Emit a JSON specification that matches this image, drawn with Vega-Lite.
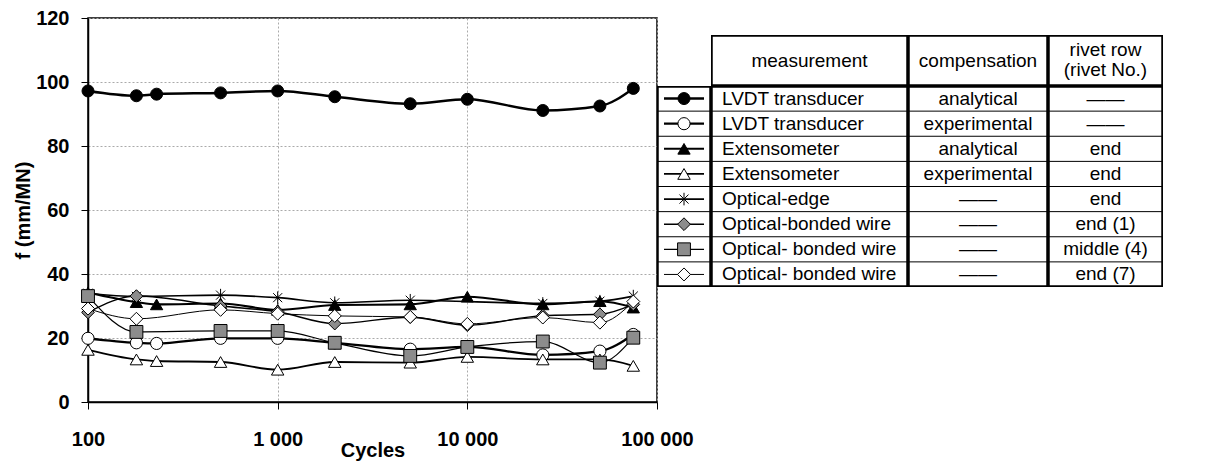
{
  "$schema": "https://vega.github.io/schema/vega-lite/v6.json",
  "padding": {"left": 12, "top": 7, "right": 5, "bottom": 0},
  "background": "white",
  "config": {
    "font": "Liberation Sans",
    "view": {"stroke": null},
    "axis": {
      "labelFont": "Liberation Sans", "labelFontWeight": "bold", "labelFontSize": 20, "labelColor": "black",
      "titleFont": "Liberation Sans", "titleFontWeight": "bold", "titleFontSize": 20, "titleColor": "black",
      "domainColor": "black", "domainWidth": 1.5, "tickColor": "black", "tickSize": 7, "tickWidth": 1,
      "grid": true, "gridColor": "#aaaaaa", "gridDash": [2, 2], "gridWidth": 1
    },
    "text": {"font": "Liberation Sans", "fontSize": 19, "color": "black"}
  },
  "datasets": {
    "points": [
      {"series": "LVDT analytical", "cycles": 100, "f": 97.2},
      {"series": "LVDT analytical", "cycles": 180, "f": 95.7},
      {"series": "LVDT analytical", "cycles": 230, "f": 96.2},
      {"series": "LVDT analytical", "cycles": 500, "f": 96.6},
      {"series": "LVDT analytical", "cycles": 1000, "f": 97.2},
      {"series": "LVDT analytical", "cycles": 2000, "f": 95.4},
      {"series": "LVDT analytical", "cycles": 5000, "f": 93.2},
      {"series": "LVDT analytical", "cycles": 10000, "f": 94.6},
      {"series": "LVDT analytical", "cycles": 25000, "f": 91.1},
      {"series": "LVDT analytical", "cycles": 50000, "f": 92.5},
      {"series": "LVDT analytical", "cycles": 75000, "f": 98.0},
      {"series": "LVDT experimental", "cycles": 100, "f": 19.9},
      {"series": "LVDT experimental", "cycles": 180, "f": 18.5},
      {"series": "LVDT experimental", "cycles": 230, "f": 18.3},
      {"series": "LVDT experimental", "cycles": 500, "f": 19.9},
      {"series": "LVDT experimental", "cycles": 1000, "f": 19.9},
      {"series": "LVDT experimental", "cycles": 2000, "f": 18.5},
      {"series": "LVDT experimental", "cycles": 5000, "f": 16.5},
      {"series": "LVDT experimental", "cycles": 10000, "f": 17.2},
      {"series": "LVDT experimental", "cycles": 25000, "f": 14.7},
      {"series": "LVDT experimental", "cycles": 50000, "f": 15.9},
      {"series": "LVDT experimental", "cycles": 75000, "f": 21.1},
      {"series": "Extensometer analytical", "cycles": 100, "f": 34.2},
      {"series": "Extensometer analytical", "cycles": 180, "f": 31.2},
      {"series": "Extensometer analytical", "cycles": 230, "f": 30.5},
      {"series": "Extensometer analytical", "cycles": 500, "f": 30.8},
      {"series": "Extensometer analytical", "cycles": 1000, "f": 28.8},
      {"series": "Extensometer analytical", "cycles": 2000, "f": 30.3},
      {"series": "Extensometer analytical", "cycles": 5000, "f": 30.5},
      {"series": "Extensometer analytical", "cycles": 10000, "f": 32.9},
      {"series": "Extensometer analytical", "cycles": 25000, "f": 30.5},
      {"series": "Extensometer analytical", "cycles": 50000, "f": 31.5},
      {"series": "Extensometer analytical", "cycles": 75000, "f": 29.5},
      {"series": "Extensometer experimental", "cycles": 100, "f": 16.3},
      {"series": "Extensometer experimental", "cycles": 180, "f": 13.3},
      {"series": "Extensometer experimental", "cycles": 230, "f": 12.8},
      {"series": "Extensometer experimental", "cycles": 500, "f": 12.5},
      {"series": "Extensometer experimental", "cycles": 1000, "f": 10.1},
      {"series": "Extensometer experimental", "cycles": 2000, "f": 12.5},
      {"series": "Extensometer experimental", "cycles": 5000, "f": 12.3},
      {"series": "Extensometer experimental", "cycles": 10000, "f": 14.1},
      {"series": "Extensometer experimental", "cycles": 25000, "f": 13.3},
      {"series": "Extensometer experimental", "cycles": 50000, "f": 13.3},
      {"series": "Extensometer experimental", "cycles": 75000, "f": 11.3},
      {"series": "Optical-edge", "cycles": 100, "f": 34.0},
      {"series": "Optical-edge", "cycles": 180, "f": 33.0},
      {"series": "Optical-edge", "cycles": 500, "f": 33.4},
      {"series": "Optical-edge", "cycles": 1000, "f": 32.6},
      {"series": "Optical-edge", "cycles": 2000, "f": 31.0},
      {"series": "Optical-edge", "cycles": 5000, "f": 31.8},
      {"series": "Optical-edge", "cycles": 25000, "f": 30.8},
      {"series": "Optical-edge", "cycles": 50000, "f": 31.5},
      {"series": "Optical-edge", "cycles": 75000, "f": 33.1},
      {"series": "Bonded end (1)", "cycles": 100, "f": 28.0},
      {"series": "Bonded end (1)", "cycles": 180, "f": 33.1},
      {"series": "Bonded end (1)", "cycles": 500, "f": 30.0},
      {"series": "Bonded end (1)", "cycles": 1000, "f": 28.2},
      {"series": "Bonded end (1)", "cycles": 2000, "f": 24.5},
      {"series": "Bonded end (1)", "cycles": 5000, "f": 26.5},
      {"series": "Bonded end (1)", "cycles": 10000, "f": 24.0},
      {"series": "Bonded end (1)", "cycles": 25000, "f": 27.0},
      {"series": "Bonded end (1)", "cycles": 50000, "f": 27.4},
      {"series": "Bonded end (1)", "cycles": 75000, "f": 30.5},
      {"series": "Bonded middle (4)", "cycles": 100, "f": 33.1},
      {"series": "Bonded middle (4)", "cycles": 180, "f": 21.9},
      {"series": "Bonded middle (4)", "cycles": 500, "f": 22.2},
      {"series": "Bonded middle (4)", "cycles": 1000, "f": 22.2},
      {"series": "Bonded middle (4)", "cycles": 2000, "f": 18.5},
      {"series": "Bonded middle (4)", "cycles": 5000, "f": 14.4},
      {"series": "Bonded middle (4)", "cycles": 10000, "f": 17.2},
      {"series": "Bonded middle (4)", "cycles": 25000, "f": 18.9},
      {"series": "Bonded middle (4)", "cycles": 50000, "f": 12.3},
      {"series": "Bonded middle (4)", "cycles": 75000, "f": 20.1},
      {"series": "Bonded end (7)", "cycles": 100, "f": 29.2},
      {"series": "Bonded end (7)", "cycles": 180, "f": 26.0},
      {"series": "Bonded end (7)", "cycles": 500, "f": 28.8},
      {"series": "Bonded end (7)", "cycles": 1000, "f": 27.6},
      {"series": "Bonded end (7)", "cycles": 2000, "f": 26.9},
      {"series": "Bonded end (7)", "cycles": 5000, "f": 26.6},
      {"series": "Bonded end (7)", "cycles": 10000, "f": 24.4},
      {"series": "Bonded end (7)", "cycles": 25000, "f": 26.4},
      {"series": "Bonded end (7)", "cycles": 50000, "f": 24.8},
      {"series": "Bonded end (7)", "cycles": 75000, "f": 31.4}
    ],
    "legendRows": [
      {"series": "LVDT analytical", "measurement": "LVDT transducer", "compensation": "analytical", "rivet": "——"},
      {"series": "LVDT experimental", "measurement": "LVDT transducer", "compensation": "experimental", "rivet": "——"},
      {"series": "Extensometer analytical", "measurement": "Extensometer", "compensation": "analytical", "rivet": "end"},
      {"series": "Extensometer experimental", "measurement": "Extensometer", "compensation": "experimental", "rivet": "end"},
      {"series": "Optical-edge", "measurement": "Optical-edge", "compensation": "——", "rivet": "end"},
      {"series": "Bonded end (1)", "measurement": "Optical-bonded wire", "compensation": "——", "rivet": "end (1)"},
      {"series": "Bonded middle (4)", "measurement": "Optical- bonded wire", "compensation": "——", "rivet": "middle (4)"},
      {"series": "Bonded end (7)", "measurement": "Optical- bonded wire", "compensation": "——", "rivet": "end (7)"}
    ],
    "headers": [
      {"column": "measurement", "label": "measurement"},
      {"column": "compensation", "label": "compensation"},
      {"column": "rivet", "label": "rivet row\n(rivet No.)"}
    ]
  },
  "bounds": "flush",
  "spacing": 0,
  "hconcat": [
    {
      "width": 569,
      "height": 384,
      "view": {"stroke": "black", "strokeWidth": 1.5},
      "data": {"name": "points"},
      "encoding": {
        "x": {
          "field": "cycles", "type": "quantitative",
          "scale": {"type": "log", "domain": [100, 100000], "nice": false},
          "axis": {"values": [100, 1000, 10000, 100000], "labelExpr": "replace(format(datum.value, ','), ',', ' ')",
                   "title": "Cycles", "labelPadding": 20, "titlePadding": -9, "labelFlush": false}
        },
        "y": {
          "field": "f", "type": "quantitative",
          "scale": {"domain": [0, 120], "nice": false},
          "axis": {"values": [0, 20, 40, 60, 80, 100, 120], "title": "f (mm/MN)", "labelPadding": 12, "titlePadding": 2}
        }
      },
      "layer": [
        {
          "mark": {"type": "line", "interpolate": "monotone", "color": "black"},
          "encoding": {
            "detail": {"field": "series", "type": "nominal"},
            "strokeWidth": {
              "field": "series", "type": "nominal",
              "scale": {"domain": ["LVDT analytical", "LVDT experimental", "Extensometer analytical", "Extensometer experimental", "Optical-edge", "Bonded end (1)", "Bonded middle (4)", "Bonded end (7)"],
                        "range": [2.5, 1, 1, 1, 1, 1, 1, 1]},
              "legend": null
            }
          }
        },
        {
          "mark": {"type": "point", "filled": true, "stroke": "black", "strokeWidth": 1, "opacity": 1, "fillOpacity": 1, "strokeOpacity": 1},
          "encoding": {
            "shape": {
              "field": "series", "type": "nominal",
              "scale": {"domain": ["LVDT analytical", "LVDT experimental", "Extensometer analytical", "Extensometer experimental", "Optical-edge", "Bonded end (1)", "Bonded middle (4)", "Bonded end (7)"],
                        "range": ["circle", "circle", "triangle-up", "triangle-up", "M0,-1V1M-0.72,-0.72L0.72,0.72M-0.72,0.72L0.72,-0.72", "diamond", "square", "diamond"]},
              "legend": null
            },
            "fill": {
              "field": "series", "type": "nominal",
              "scale": {"domain": ["LVDT analytical", "LVDT experimental", "Extensometer analytical", "Extensometer experimental", "Optical-edge", "Bonded end (1)", "Bonded middle (4)", "Bonded end (7)"],
                        "range": ["black", "white", "black", "white", "white", "#8c8c8c", "#8c8c8c", "white"]},
              "legend": null
            },
            "size": {
              "field": "series", "type": "nominal",
              "scale": {"domain": ["LVDT analytical", "LVDT experimental", "Extensometer analytical", "Extensometer experimental", "Optical-edge", "Bonded end (1)", "Bonded middle (4)", "Bonded end (7)"],
                        "range": [144, 169, 150, 150, 200, 170, 121, 170]},
              "legend": null
            }
          }
        }
      ]
    },
    {
      "spacing": 0,
      "vconcat": [
        {
          "width": 506, "height": 17,
          "data": {"values": []},
          "mark": "text",
          "encoding": {}
        },
        {
          "spacing": 0,
          "hconcat": [
            {
              "width": 54, "height": 51,
              "data": {"values": []},
              "mark": "text",
              "encoding": {}
            },
            {
              "width": 197, "height": 51,
              "data": {"name": "headers"},
              "transform": [{"filter": "datum.column === 'measurement'"}],
              "layer": [
                {"mark": {"type": "rect", "fill": "white", "stroke": "black", "strokeWidth": 3.5, "clip": true}, "encoding": {}},
                {"mark": {"type": "text", "fontSize": 19}, "encoding": {"text": {"field": "label"}}}
              ]
            },
            {
              "width": 140, "height": 51,
              "data": {"name": "headers"},
              "transform": [{"filter": "datum.column === 'compensation'"}],
              "layer": [
                {"mark": {"type": "rect", "fill": "white", "stroke": "black", "strokeWidth": 3.5, "clip": true}, "encoding": {}},
                {"mark": {"type": "text", "fontSize": 19}, "encoding": {"text": {"field": "label"}}}
              ]
            },
            {
              "width": 115, "height": 51,
              "data": {"name": "headers"},
              "transform": [{"filter": "datum.column === 'rivet'"}],
              "layer": [
                {"mark": {"type": "rect", "fill": "white", "stroke": "black", "strokeWidth": 3.5, "clip": true}, "encoding": {}},
                {"mark": {"type": "text", "fontSize": 19, "lineBreak": "\n", "lineHeight": 20, "dy": -11}, "encoding": {"text": {"field": "label"}}}
              ]
            }
          ]
        },
        {
          "spacing": 0,
          "hconcat": [
            {
              "width": 54, "height": 201,
              "data": {"name": "legendRows"},
              "layer": [
                {"mark": {"type": "rect", "fill": "white", "stroke": "black", "strokeWidth": 3.5, "clip": true}, "encoding": {}},
                {
                  "mark": {"type": "rule", "color": "black", "strokeWidth": 1, "clip": true},
                  "encoding": {"y": {"field": "series", "type": "nominal", "bandPosition": 0, "axis": null,
                    "scale": {"domain": ["LVDT analytical", "LVDT experimental", "Extensometer analytical", "Extensometer experimental", "Optical-edge", "Bonded end (1)", "Bonded middle (4)", "Bonded end (7)"], "paddingInner": 0, "paddingOuter": 0}}}
                },
                {
                  "mark": {"type": "point", "shape": "M-1,0H1", "size": 1600, "filled": false, "stroke": "black", "opacity": 1},
                  "encoding": {
                    "y": {"field": "series", "type": "nominal", "axis": null},
                    "strokeWidth": {
                      "field": "series", "type": "nominal",
                      "scale": {"domain": ["LVDT analytical", "LVDT experimental", "Extensometer analytical", "Extensometer experimental", "Optical-edge", "Bonded end (1)", "Bonded middle (4)", "Bonded end (7)"],
                                "range": [2.5, 1, 1, 1, 1, 1, 1, 1]},
                      "legend": null
                    }
                  }
                },
                {
                  "mark": {"type": "point", "filled": true, "stroke": "black", "strokeWidth": 1, "opacity": 1, "fillOpacity": 1, "strokeOpacity": 1},
                  "encoding": {
                    "y": {"field": "series", "type": "nominal", "axis": null},
                    "shape": {
                      "field": "series", "type": "nominal",
                      "scale": {"domain": ["LVDT analytical", "LVDT experimental", "Extensometer analytical", "Extensometer experimental", "Optical-edge", "Bonded end (1)", "Bonded middle (4)", "Bonded end (7)"],
                                "range": ["circle", "circle", "triangle-up", "triangle-up", "M0,-1V1M-0.72,-0.72L0.72,0.72M-0.72,0.72L0.72,-0.72", "diamond", "square", "diamond"]},
                      "legend": null
                    },
                    "fill": {
                      "field": "series", "type": "nominal",
                      "scale": {"domain": ["LVDT analytical", "LVDT experimental", "Extensometer analytical", "Extensometer experimental", "Optical-edge", "Bonded end (1)", "Bonded middle (4)", "Bonded end (7)"],
                                "range": ["black", "white", "black", "white", "white", "#8c8c8c", "#8c8c8c", "white"]},
                      "legend": null
                    },
                    "size": {
                      "field": "series", "type": "nominal",
                      "scale": {"domain": ["LVDT analytical", "LVDT experimental", "Extensometer analytical", "Extensometer experimental", "Optical-edge", "Bonded end (1)", "Bonded middle (4)", "Bonded end (7)"],
                                "range": [144, 169, 150, 150, 200, 170, 121, 170]},
                      "legend": null
                    }
                  }
                }
              ]
            },
            {
              "width": 197, "height": 201,
              "data": {"name": "legendRows"},
              "layer": [
                {"mark": {"type": "rect", "fill": "white", "stroke": "black", "strokeWidth": 3.5, "clip": true}, "encoding": {}},
                {
                  "mark": {"type": "rule", "color": "black", "strokeWidth": 1, "clip": true},
                  "encoding": {"y": {"field": "series", "type": "nominal", "bandPosition": 0, "axis": null,
                    "scale": {"domain": ["LVDT analytical", "LVDT experimental", "Extensometer analytical", "Extensometer experimental", "Optical-edge", "Bonded end (1)", "Bonded middle (4)", "Bonded end (7)"], "paddingInner": 0, "paddingOuter": 0}}}
                },
                {
                  "mark": {"type": "text", "fontSize": 19, "align": "left", "dx": 11},
                  "encoding": {"y": {"field": "series", "type": "nominal", "axis": null}, "x": {"value": 0}, "text": {"field": "measurement"}}
                }
              ]
            },
            {
              "width": 140, "height": 201,
              "data": {"name": "legendRows"},
              "layer": [
                {"mark": {"type": "rect", "fill": "white", "stroke": "black", "strokeWidth": 3.5, "clip": true}, "encoding": {}},
                {
                  "mark": {"type": "rule", "color": "black", "strokeWidth": 1, "clip": true},
                  "encoding": {"y": {"field": "series", "type": "nominal", "bandPosition": 0, "axis": null,
                    "scale": {"domain": ["LVDT analytical", "LVDT experimental", "Extensometer analytical", "Extensometer experimental", "Optical-edge", "Bonded end (1)", "Bonded middle (4)", "Bonded end (7)"], "paddingInner": 0, "paddingOuter": 0}}}
                },
                {
                  "mark": {"type": "text", "fontSize": 19},
                  "encoding": {"y": {"field": "series", "type": "nominal", "axis": null}, "text": {"field": "compensation"}}
                }
              ]
            },
            {
              "width": 115, "height": 201,
              "data": {"name": "legendRows"},
              "layer": [
                {"mark": {"type": "rect", "fill": "white", "stroke": "black", "strokeWidth": 3.5, "clip": true}, "encoding": {}},
                {
                  "mark": {"type": "rule", "color": "black", "strokeWidth": 1, "clip": true},
                  "encoding": {"y": {"field": "series", "type": "nominal", "bandPosition": 0, "axis": null,
                    "scale": {"domain": ["LVDT analytical", "LVDT experimental", "Extensometer analytical", "Extensometer experimental", "Optical-edge", "Bonded end (1)", "Bonded middle (4)", "Bonded end (7)"], "paddingInner": 0, "paddingOuter": 0}}}
                },
                {
                  "mark": {"type": "text", "fontSize": 19},
                  "encoding": {"y": {"field": "series", "type": "nominal", "axis": null}, "text": {"field": "rivet"}}
                }
              ]
            }
          ]
        }
      ]
    }
  ]
}
